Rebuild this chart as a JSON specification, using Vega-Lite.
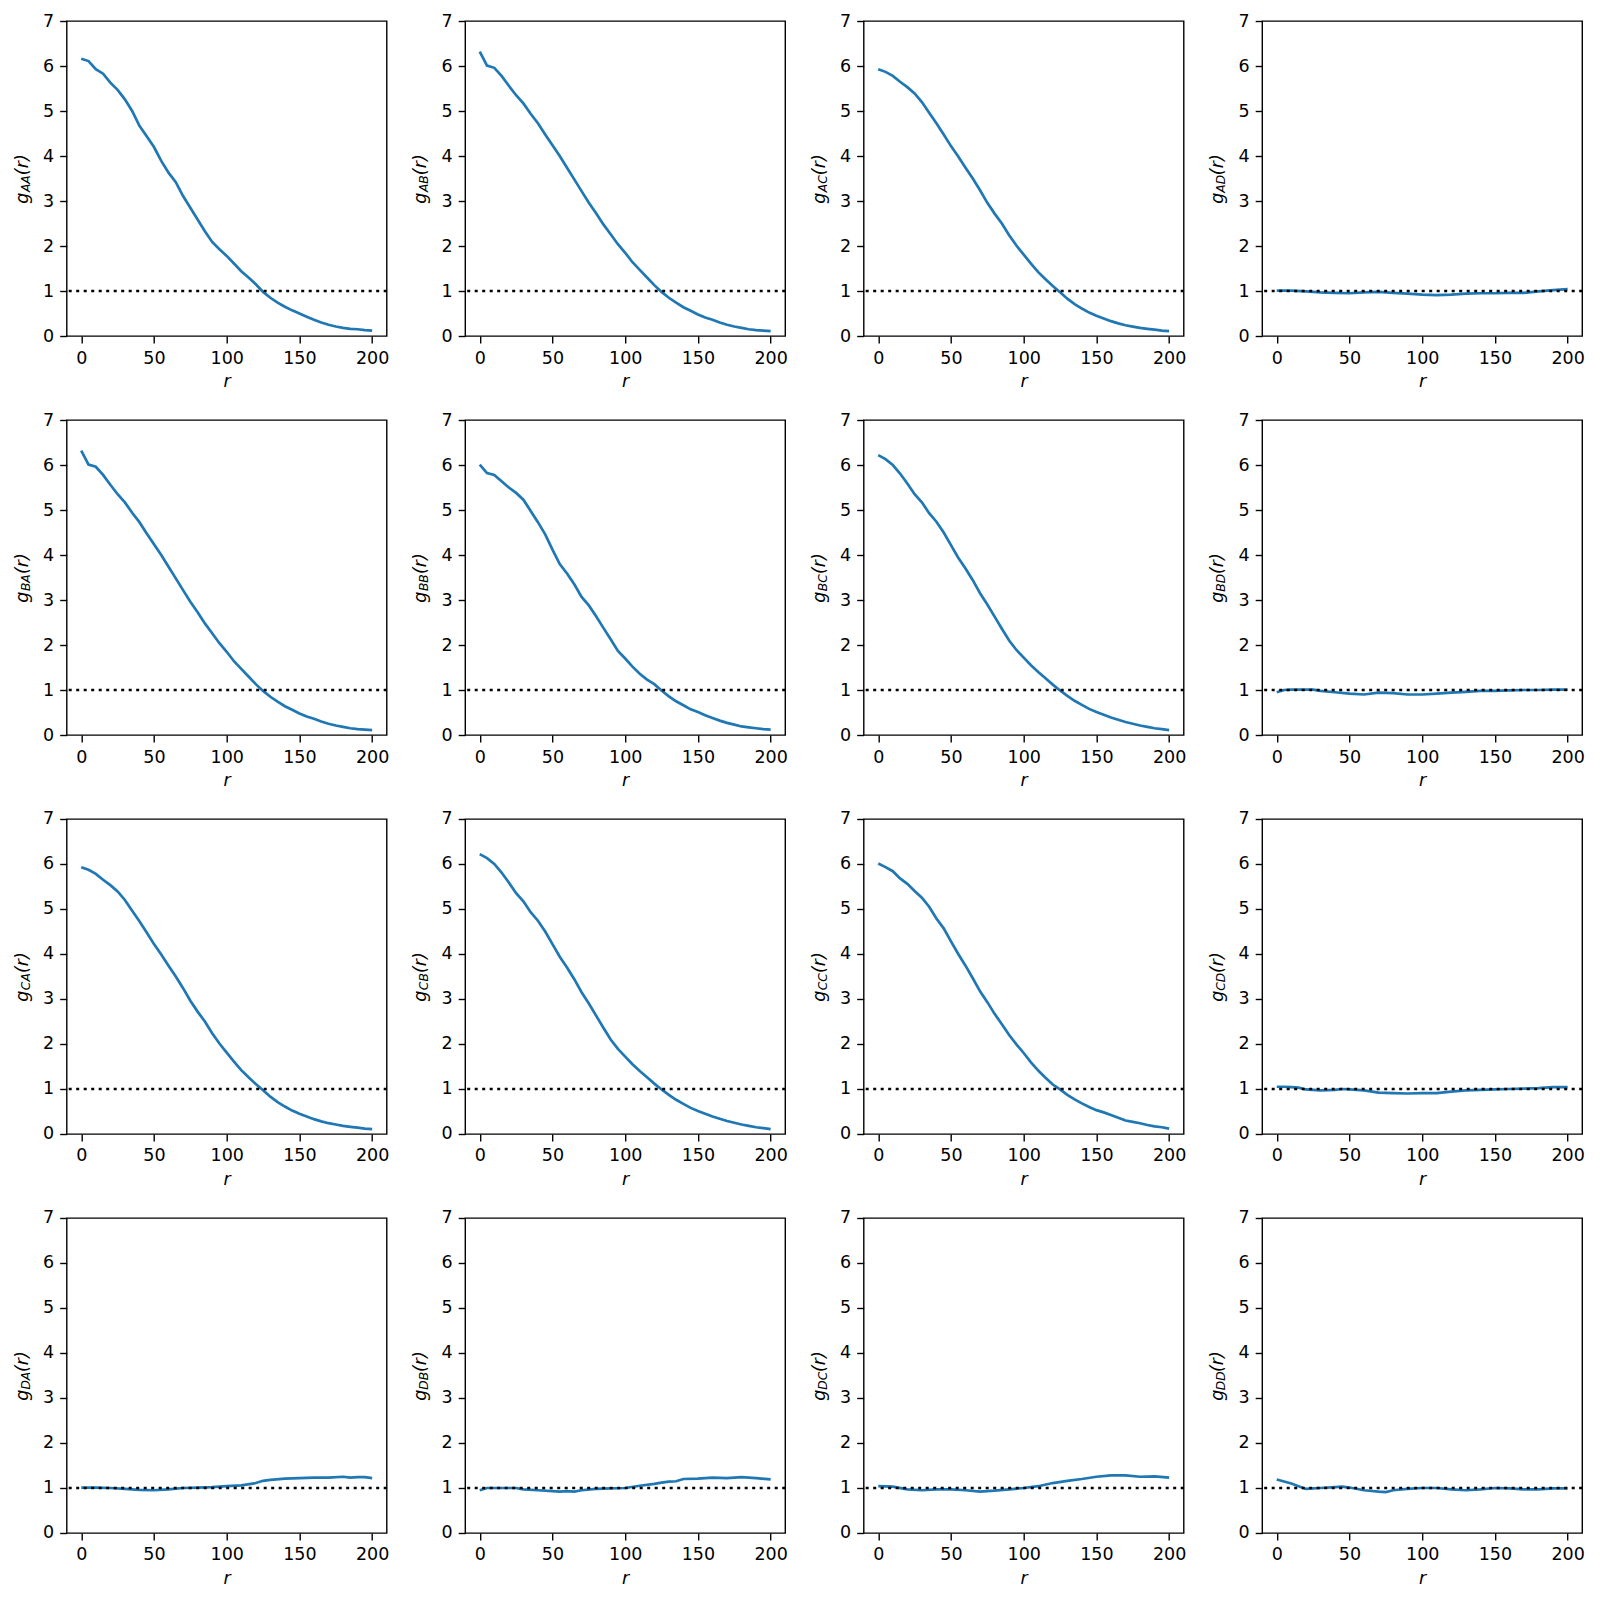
{
"$schema": "https://vega.github.io/schema/vega-lite/v6.json",
"background": "white",
"padding": {"left": 12.7, "top": 11, "right": 5, "bottom": 5},
"datasets": {"g": [
{"p":"AA","r":0,"g":6.16},{"p":"AA","r":5,"g":6.11},{"p":"AA","r":10,"g":5.93},{"p":"AA","r":15,"g":5.83},{"p":"AA","r":20,"g":5.63},{"p":"AA","r":25,"g":5.47},{"p":"AA","r":30,"g":5.26},{"p":"AA","r":35,"g":5.0},{"p":"AA","r":40,"g":4.67},{"p":"AA","r":45,"g":4.44},{"p":"AA","r":50,"g":4.2},{"p":"AA","r":55,"g":3.89},{"p":"AA","r":60,"g":3.63},{"p":"AA","r":65,"g":3.42},{"p":"AA","r":70,"g":3.11},{"p":"AA","r":75,"g":2.85},{"p":"AA","r":80,"g":2.59},{"p":"AA","r":85,"g":2.33},{"p":"AA","r":90,"g":2.09},{"p":"AA","r":95,"g":1.93},{"p":"AA","r":100,"g":1.78},{"p":"AA","r":105,"g":1.61},{"p":"AA","r":110,"g":1.44},{"p":"AA","r":115,"g":1.3},{"p":"AA","r":120,"g":1.15},{"p":"AA","r":125,"g":0.98},{"p":"AA","r":130,"g":0.85},{"p":"AA","r":135,"g":0.74},{"p":"AA","r":140,"g":0.65},{"p":"AA","r":145,"g":0.57},{"p":"AA","r":150,"g":0.5},{"p":"AA","r":155,"g":0.43},{"p":"AA","r":160,"g":0.36},{"p":"AA","r":165,"g":0.3},{"p":"AA","r":170,"g":0.25},{"p":"AA","r":175,"g":0.21},{"p":"AA","r":180,"g":0.18},{"p":"AA","r":185,"g":0.16},{"p":"AA","r":190,"g":0.15},{"p":"AA","r":195,"g":0.13},{"p":"AA","r":200,"g":0.12},
{"p":"AB","r":0,"g":6.32},{"p":"AB","r":5,"g":6.01},{"p":"AB","r":10,"g":5.96},{"p":"AB","r":15,"g":5.78},{"p":"AB","r":20,"g":5.56},{"p":"AB","r":25,"g":5.35},{"p":"AB","r":30,"g":5.17},{"p":"AB","r":35,"g":4.94},{"p":"AB","r":40,"g":4.73},{"p":"AB","r":45,"g":4.48},{"p":"AB","r":50,"g":4.24},{"p":"AB","r":55,"g":4.0},{"p":"AB","r":60,"g":3.74},{"p":"AB","r":65,"g":3.48},{"p":"AB","r":70,"g":3.22},{"p":"AB","r":75,"g":2.96},{"p":"AB","r":80,"g":2.73},{"p":"AB","r":85,"g":2.48},{"p":"AB","r":90,"g":2.26},{"p":"AB","r":95,"g":2.04},{"p":"AB","r":100,"g":1.85},{"p":"AB","r":105,"g":1.64},{"p":"AB","r":110,"g":1.47},{"p":"AB","r":115,"g":1.3},{"p":"AB","r":120,"g":1.13},{"p":"AB","r":125,"g":0.98},{"p":"AB","r":130,"g":0.85},{"p":"AB","r":135,"g":0.74},{"p":"AB","r":140,"g":0.64},{"p":"AB","r":145,"g":0.56},{"p":"AB","r":150,"g":0.48},{"p":"AB","r":155,"g":0.41},{"p":"AB","r":160,"g":0.36},{"p":"AB","r":165,"g":0.3},{"p":"AB","r":170,"g":0.25},{"p":"AB","r":175,"g":0.21},{"p":"AB","r":180,"g":0.18},{"p":"AB","r":185,"g":0.15},{"p":"AB","r":190,"g":0.13},{"p":"AB","r":195,"g":0.12},{"p":"AB","r":200,"g":0.11},
{"p":"BA","r":0,"g":6.32},{"p":"BA","r":5,"g":6.01},{"p":"BA","r":10,"g":5.96},{"p":"BA","r":15,"g":5.78},{"p":"BA","r":20,"g":5.56},{"p":"BA","r":25,"g":5.35},{"p":"BA","r":30,"g":5.17},{"p":"BA","r":35,"g":4.94},{"p":"BA","r":40,"g":4.73},{"p":"BA","r":45,"g":4.48},{"p":"BA","r":50,"g":4.24},{"p":"BA","r":55,"g":4.0},{"p":"BA","r":60,"g":3.74},{"p":"BA","r":65,"g":3.48},{"p":"BA","r":70,"g":3.22},{"p":"BA","r":75,"g":2.96},{"p":"BA","r":80,"g":2.73},{"p":"BA","r":85,"g":2.48},{"p":"BA","r":90,"g":2.26},{"p":"BA","r":95,"g":2.04},{"p":"BA","r":100,"g":1.85},{"p":"BA","r":105,"g":1.64},{"p":"BA","r":110,"g":1.47},{"p":"BA","r":115,"g":1.3},{"p":"BA","r":120,"g":1.13},{"p":"BA","r":125,"g":0.98},{"p":"BA","r":130,"g":0.85},{"p":"BA","r":135,"g":0.74},{"p":"BA","r":140,"g":0.64},{"p":"BA","r":145,"g":0.56},{"p":"BA","r":150,"g":0.48},{"p":"BA","r":155,"g":0.41},{"p":"BA","r":160,"g":0.36},{"p":"BA","r":165,"g":0.3},{"p":"BA","r":170,"g":0.25},{"p":"BA","r":175,"g":0.21},{"p":"BA","r":180,"g":0.18},{"p":"BA","r":185,"g":0.15},{"p":"BA","r":190,"g":0.13},{"p":"BA","r":195,"g":0.12},{"p":"BA","r":200,"g":0.11},
{"p":"AC","r":0,"g":5.93},{"p":"AC","r":5,"g":5.87},{"p":"AC","r":10,"g":5.78},{"p":"AC","r":15,"g":5.65},{"p":"AC","r":20,"g":5.53},{"p":"AC","r":25,"g":5.39},{"p":"AC","r":30,"g":5.2},{"p":"AC","r":35,"g":4.96},{"p":"AC","r":40,"g":4.73},{"p":"AC","r":45,"g":4.48},{"p":"AC","r":50,"g":4.22},{"p":"AC","r":55,"g":3.99},{"p":"AC","r":60,"g":3.74},{"p":"AC","r":65,"g":3.5},{"p":"AC","r":70,"g":3.24},{"p":"AC","r":75,"g":2.96},{"p":"AC","r":80,"g":2.72},{"p":"AC","r":85,"g":2.5},{"p":"AC","r":90,"g":2.24},{"p":"AC","r":95,"g":2.01},{"p":"AC","r":100,"g":1.81},{"p":"AC","r":105,"g":1.61},{"p":"AC","r":110,"g":1.42},{"p":"AC","r":115,"g":1.26},{"p":"AC","r":120,"g":1.11},{"p":"AC","r":125,"g":0.97},{"p":"AC","r":130,"g":0.83},{"p":"AC","r":135,"g":0.71},{"p":"AC","r":140,"g":0.61},{"p":"AC","r":145,"g":0.52},{"p":"AC","r":150,"g":0.45},{"p":"AC","r":155,"g":0.39},{"p":"AC","r":160,"g":0.33},{"p":"AC","r":165,"g":0.28},{"p":"AC","r":170,"g":0.24},{"p":"AC","r":175,"g":0.21},{"p":"AC","r":180,"g":0.18},{"p":"AC","r":185,"g":0.16},{"p":"AC","r":190,"g":0.14},{"p":"AC","r":195,"g":0.12},{"p":"AC","r":200,"g":0.11},
{"p":"CA","r":0,"g":5.93},{"p":"CA","r":5,"g":5.87},{"p":"CA","r":10,"g":5.78},{"p":"CA","r":15,"g":5.65},{"p":"CA","r":20,"g":5.53},{"p":"CA","r":25,"g":5.39},{"p":"CA","r":30,"g":5.2},{"p":"CA","r":35,"g":4.96},{"p":"CA","r":40,"g":4.73},{"p":"CA","r":45,"g":4.48},{"p":"CA","r":50,"g":4.22},{"p":"CA","r":55,"g":3.99},{"p":"CA","r":60,"g":3.74},{"p":"CA","r":65,"g":3.5},{"p":"CA","r":70,"g":3.24},{"p":"CA","r":75,"g":2.96},{"p":"CA","r":80,"g":2.72},{"p":"CA","r":85,"g":2.5},{"p":"CA","r":90,"g":2.24},{"p":"CA","r":95,"g":2.01},{"p":"CA","r":100,"g":1.81},{"p":"CA","r":105,"g":1.61},{"p":"CA","r":110,"g":1.42},{"p":"CA","r":115,"g":1.26},{"p":"CA","r":120,"g":1.11},{"p":"CA","r":125,"g":0.97},{"p":"CA","r":130,"g":0.83},{"p":"CA","r":135,"g":0.71},{"p":"CA","r":140,"g":0.61},{"p":"CA","r":145,"g":0.52},{"p":"CA","r":150,"g":0.45},{"p":"CA","r":155,"g":0.39},{"p":"CA","r":160,"g":0.33},{"p":"CA","r":165,"g":0.28},{"p":"CA","r":170,"g":0.24},{"p":"CA","r":175,"g":0.21},{"p":"CA","r":180,"g":0.18},{"p":"CA","r":185,"g":0.16},{"p":"CA","r":190,"g":0.14},{"p":"CA","r":195,"g":0.12},{"p":"CA","r":200,"g":0.11},
{"p":"BB","r":0,"g":6.01},{"p":"BB","r":5,"g":5.82},{"p":"BB","r":10,"g":5.78},{"p":"BB","r":15,"g":5.64},{"p":"BB","r":20,"g":5.5},{"p":"BB","r":25,"g":5.38},{"p":"BB","r":30,"g":5.23},{"p":"BB","r":35,"g":4.98},{"p":"BB","r":40,"g":4.73},{"p":"BB","r":45,"g":4.46},{"p":"BB","r":50,"g":4.12},{"p":"BB","r":55,"g":3.8},{"p":"BB","r":60,"g":3.59},{"p":"BB","r":65,"g":3.35},{"p":"BB","r":70,"g":3.07},{"p":"BB","r":75,"g":2.88},{"p":"BB","r":80,"g":2.64},{"p":"BB","r":85,"g":2.38},{"p":"BB","r":90,"g":2.13},{"p":"BB","r":95,"g":1.87},{"p":"BB","r":100,"g":1.7},{"p":"BB","r":105,"g":1.52},{"p":"BB","r":110,"g":1.36},{"p":"BB","r":115,"g":1.23},{"p":"BB","r":120,"g":1.13},{"p":"BB","r":125,"g":0.99},{"p":"BB","r":130,"g":0.86},{"p":"BB","r":135,"g":0.75},{"p":"BB","r":140,"g":0.66},{"p":"BB","r":145,"g":0.57},{"p":"BB","r":150,"g":0.51},{"p":"BB","r":155,"g":0.44},{"p":"BB","r":160,"g":0.38},{"p":"BB","r":165,"g":0.32},{"p":"BB","r":170,"g":0.27},{"p":"BB","r":175,"g":0.23},{"p":"BB","r":180,"g":0.19},{"p":"BB","r":185,"g":0.17},{"p":"BB","r":190,"g":0.15},{"p":"BB","r":195,"g":0.13},{"p":"BB","r":200,"g":0.12},
{"p":"BC","r":0,"g":6.22},{"p":"BC","r":5,"g":6.13},{"p":"BC","r":10,"g":6.0},{"p":"BC","r":15,"g":5.81},{"p":"BC","r":20,"g":5.59},{"p":"BC","r":25,"g":5.35},{"p":"BC","r":30,"g":5.17},{"p":"BC","r":35,"g":4.93},{"p":"BC","r":40,"g":4.74},{"p":"BC","r":45,"g":4.5},{"p":"BC","r":50,"g":4.22},{"p":"BC","r":55,"g":3.94},{"p":"BC","r":60,"g":3.7},{"p":"BC","r":65,"g":3.44},{"p":"BC","r":70,"g":3.15},{"p":"BC","r":75,"g":2.9},{"p":"BC","r":80,"g":2.63},{"p":"BC","r":85,"g":2.36},{"p":"BC","r":90,"g":2.1},{"p":"BC","r":95,"g":1.89},{"p":"BC","r":100,"g":1.72},{"p":"BC","r":105,"g":1.55},{"p":"BC","r":110,"g":1.4},{"p":"BC","r":115,"g":1.26},{"p":"BC","r":120,"g":1.12},{"p":"BC","r":125,"g":0.99},{"p":"BC","r":130,"g":0.87},{"p":"BC","r":135,"g":0.76},{"p":"BC","r":140,"g":0.67},{"p":"BC","r":145,"g":0.58},{"p":"BC","r":150,"g":0.51},{"p":"BC","r":155,"g":0.45},{"p":"BC","r":160,"g":0.39},{"p":"BC","r":165,"g":0.34},{"p":"BC","r":170,"g":0.29},{"p":"BC","r":175,"g":0.25},{"p":"BC","r":180,"g":0.21},{"p":"BC","r":185,"g":0.18},{"p":"BC","r":190,"g":0.15},{"p":"BC","r":195,"g":0.13},{"p":"BC","r":200,"g":0.11},
{"p":"CB","r":0,"g":6.22},{"p":"CB","r":5,"g":6.13},{"p":"CB","r":10,"g":6.0},{"p":"CB","r":15,"g":5.81},{"p":"CB","r":20,"g":5.59},{"p":"CB","r":25,"g":5.35},{"p":"CB","r":30,"g":5.17},{"p":"CB","r":35,"g":4.93},{"p":"CB","r":40,"g":4.74},{"p":"CB","r":45,"g":4.5},{"p":"CB","r":50,"g":4.22},{"p":"CB","r":55,"g":3.94},{"p":"CB","r":60,"g":3.7},{"p":"CB","r":65,"g":3.44},{"p":"CB","r":70,"g":3.15},{"p":"CB","r":75,"g":2.9},{"p":"CB","r":80,"g":2.63},{"p":"CB","r":85,"g":2.36},{"p":"CB","r":90,"g":2.1},{"p":"CB","r":95,"g":1.89},{"p":"CB","r":100,"g":1.72},{"p":"CB","r":105,"g":1.55},{"p":"CB","r":110,"g":1.4},{"p":"CB","r":115,"g":1.26},{"p":"CB","r":120,"g":1.12},{"p":"CB","r":125,"g":0.99},{"p":"CB","r":130,"g":0.87},{"p":"CB","r":135,"g":0.76},{"p":"CB","r":140,"g":0.67},{"p":"CB","r":145,"g":0.58},{"p":"CB","r":150,"g":0.51},{"p":"CB","r":155,"g":0.45},{"p":"CB","r":160,"g":0.39},{"p":"CB","r":165,"g":0.34},{"p":"CB","r":170,"g":0.29},{"p":"CB","r":175,"g":0.25},{"p":"CB","r":180,"g":0.21},{"p":"CB","r":185,"g":0.18},{"p":"CB","r":190,"g":0.15},{"p":"CB","r":195,"g":0.13},{"p":"CB","r":200,"g":0.11},
{"p":"CC","r":0,"g":6.01},{"p":"CC","r":5,"g":5.93},{"p":"CC","r":10,"g":5.84},{"p":"CC","r":15,"g":5.68},{"p":"CC","r":20,"g":5.56},{"p":"CC","r":25,"g":5.4},{"p":"CC","r":30,"g":5.25},{"p":"CC","r":35,"g":5.05},{"p":"CC","r":40,"g":4.79},{"p":"CC","r":45,"g":4.57},{"p":"CC","r":50,"g":4.28},{"p":"CC","r":55,"g":4.0},{"p":"CC","r":60,"g":3.74},{"p":"CC","r":65,"g":3.46},{"p":"CC","r":70,"g":3.17},{"p":"CC","r":75,"g":2.93},{"p":"CC","r":80,"g":2.67},{"p":"CC","r":85,"g":2.44},{"p":"CC","r":90,"g":2.2},{"p":"CC","r":95,"g":1.99},{"p":"CC","r":100,"g":1.8},{"p":"CC","r":105,"g":1.59},{"p":"CC","r":110,"g":1.41},{"p":"CC","r":115,"g":1.25},{"p":"CC","r":120,"g":1.1},{"p":"CC","r":125,"g":0.99},{"p":"CC","r":130,"g":0.87},{"p":"CC","r":135,"g":0.77},{"p":"CC","r":140,"g":0.68},{"p":"CC","r":145,"g":0.6},{"p":"CC","r":150,"g":0.53},{"p":"CC","r":155,"g":0.48},{"p":"CC","r":160,"g":0.42},{"p":"CC","r":165,"g":0.36},{"p":"CC","r":170,"g":0.3},{"p":"CC","r":175,"g":0.27},{"p":"CC","r":180,"g":0.24},{"p":"CC","r":185,"g":0.2},{"p":"CC","r":190,"g":0.17},{"p":"CC","r":195,"g":0.15},{"p":"CC","r":200,"g":0.12},
{"p":"AD","r":0,"g":1.01},{"p":"AD","r":10,"g":1.01},{"p":"AD","r":20,"g":0.99},{"p":"AD","r":30,"g":0.97},{"p":"AD","r":40,"g":0.96},{"p":"AD","r":50,"g":0.95},{"p":"AD","r":60,"g":0.97},{"p":"AD","r":70,"g":0.98},{"p":"AD","r":80,"g":0.96},{"p":"AD","r":90,"g":0.94},{"p":"AD","r":100,"g":0.92},{"p":"AD","r":110,"g":0.91},{"p":"AD","r":120,"g":0.92},{"p":"AD","r":130,"g":0.94},{"p":"AD","r":140,"g":0.95},{"p":"AD","r":150,"g":0.95},{"p":"AD","r":160,"g":0.96},{"p":"AD","r":170,"g":0.96},{"p":"AD","r":180,"g":0.99},{"p":"AD","r":190,"g":1.02},{"p":"AD","r":200,"g":1.04},
{"p":"BD","r":0,"g":0.95},{"p":"BD","r":5,"g":1.0},{"p":"BD","r":10,"g":1.01},{"p":"BD","r":20,"g":1.01},{"p":"BD","r":25,"g":1.01},{"p":"BD","r":30,"g":0.98},{"p":"BD","r":40,"g":0.95},{"p":"BD","r":50,"g":0.92},{"p":"BD","r":60,"g":0.9},{"p":"BD","r":70,"g":0.94},{"p":"BD","r":80,"g":0.93},{"p":"BD","r":90,"g":0.9},{"p":"BD","r":100,"g":0.9},{"p":"BD","r":110,"g":0.92},{"p":"BD","r":120,"g":0.94},{"p":"BD","r":130,"g":0.96},{"p":"BD","r":140,"g":0.98},{"p":"BD","r":150,"g":0.98},{"p":"BD","r":160,"g":0.99},{"p":"BD","r":170,"g":1.0},{"p":"BD","r":180,"g":1.0},{"p":"BD","r":190,"g":1.01},{"p":"BD","r":200,"g":1.01},
{"p":"CD","r":0,"g":1.05},{"p":"CD","r":5,"g":1.05},{"p":"CD","r":10,"g":1.04},{"p":"CD","r":15,"g":1.03},{"p":"CD","r":20,"g":0.99},{"p":"CD","r":30,"g":0.97},{"p":"CD","r":40,"g":0.98},{"p":"CD","r":45,"g":1.0},{"p":"CD","r":50,"g":0.99},{"p":"CD","r":60,"g":0.97},{"p":"CD","r":70,"g":0.92},{"p":"CD","r":80,"g":0.91},{"p":"CD","r":90,"g":0.9},{"p":"CD","r":100,"g":0.91},{"p":"CD","r":110,"g":0.91},{"p":"CD","r":120,"g":0.94},{"p":"CD","r":130,"g":0.97},{"p":"CD","r":140,"g":0.98},{"p":"CD","r":150,"g":0.99},{"p":"CD","r":160,"g":1.0},{"p":"CD","r":170,"g":1.01},{"p":"CD","r":180,"g":1.02},{"p":"CD","r":190,"g":1.04},{"p":"CD","r":200,"g":1.04},
{"p":"DA","r":0,"g":1.01},{"p":"DA","r":10,"g":1.01},{"p":"DA","r":20,"g":1.0},{"p":"DA","r":30,"g":0.98},{"p":"DA","r":40,"g":0.96},{"p":"DA","r":50,"g":0.95},{"p":"DA","r":60,"g":0.97},{"p":"DA","r":70,"g":1.0},{"p":"DA","r":80,"g":1.01},{"p":"DA","r":90,"g":1.02},{"p":"DA","r":100,"g":1.04},{"p":"DA","r":110,"g":1.06},{"p":"DA","r":120,"g":1.11},{"p":"DA","r":125,"g":1.16},{"p":"DA","r":130,"g":1.18},{"p":"DA","r":140,"g":1.21},{"p":"DA","r":150,"g":1.22},{"p":"DA","r":160,"g":1.23},{"p":"DA","r":170,"g":1.23},{"p":"DA","r":180,"g":1.25},{"p":"DA","r":185,"g":1.23},{"p":"DA","r":190,"g":1.24},{"p":"DA","r":195,"g":1.24},{"p":"DA","r":200,"g":1.22},
{"p":"DB","r":0,"g":0.95},{"p":"DB","r":5,"g":1.0},{"p":"DB","r":10,"g":1.0},{"p":"DB","r":20,"g":1.0},{"p":"DB","r":25,"g":1.0},{"p":"DB","r":30,"g":0.97},{"p":"DB","r":40,"g":0.95},{"p":"DB","r":50,"g":0.93},{"p":"DB","r":55,"g":0.92},{"p":"DB","r":60,"g":0.93},{"p":"DB","r":65,"g":0.92},{"p":"DB","r":70,"g":0.95},{"p":"DB","r":80,"g":0.98},{"p":"DB","r":90,"g":0.99},{"p":"DB","r":100,"g":1.0},{"p":"DB","r":110,"g":1.05},{"p":"DB","r":120,"g":1.09},{"p":"DB","r":125,"g":1.12},{"p":"DB","r":130,"g":1.14},{"p":"DB","r":135,"g":1.15},{"p":"DB","r":140,"g":1.2},{"p":"DB","r":150,"g":1.21},{"p":"DB","r":160,"g":1.23},{"p":"DB","r":170,"g":1.22},{"p":"DB","r":180,"g":1.24},{"p":"DB","r":190,"g":1.22},{"p":"DB","r":200,"g":1.19},
{"p":"DC","r":0,"g":1.04},{"p":"DC","r":10,"g":1.03},{"p":"DC","r":20,"g":0.97},{"p":"DC","r":30,"g":0.95},{"p":"DC","r":40,"g":0.97},{"p":"DC","r":50,"g":0.97},{"p":"DC","r":60,"g":0.95},{"p":"DC","r":70,"g":0.92},{"p":"DC","r":80,"g":0.94},{"p":"DC","r":90,"g":0.97},{"p":"DC","r":100,"g":1.0},{"p":"DC","r":110,"g":1.04},{"p":"DC","r":120,"g":1.11},{"p":"DC","r":130,"g":1.16},{"p":"DC","r":140,"g":1.2},{"p":"DC","r":150,"g":1.25},{"p":"DC","r":160,"g":1.28},{"p":"DC","r":170,"g":1.28},{"p":"DC","r":180,"g":1.25},{"p":"DC","r":190,"g":1.26},{"p":"DC","r":200,"g":1.23},
{"p":"DD","r":0,"g":1.19},{"p":"DD","r":10,"g":1.1},{"p":"DD","r":20,"g":0.98},{"p":"DD","r":30,"g":1.0},{"p":"DD","r":40,"g":1.02},{"p":"DD","r":45,"g":1.03},{"p":"DD","r":50,"g":1.01},{"p":"DD","r":60,"g":0.95},{"p":"DD","r":70,"g":0.92},{"p":"DD","r":75,"g":0.91},{"p":"DD","r":80,"g":0.95},{"p":"DD","r":90,"g":0.98},{"p":"DD","r":100,"g":1.0},{"p":"DD","r":110,"g":1.0},{"p":"DD","r":120,"g":0.97},{"p":"DD","r":130,"g":0.95},{"p":"DD","r":140,"g":0.97},{"p":"DD","r":150,"g":1.0},{"p":"DD","r":160,"g":0.99},{"p":"DD","r":170,"g":0.97},{"p":"DD","r":180,"g":0.97},{"p":"DD","r":190,"g":0.99},{"p":"DD","r":200,"g":0.99}
]},
"data": {"name": "g"},
"columns": 4,
"spacing": {"row": 84, "column": 78.5},
"bounds": "flush",
"concat": [
{"width":320,"height":315,"layer":[{"transform":[{"filter":"datum.p==='AA'"}],"mark":{"type":"line","color":"#1f77b4","strokeWidth":2.7},"encoding":{"x":{"field":"r","type":"quantitative","scale":{"domain":[-10,210],"nice":false,"zero":false},"axis":{"values":[0,50,100,150,200],"title":"r"}},"y":{"field":"g","type":"quantitative","scale":{"domain":[0,7],"nice":false},"axis":{"orient":"left","values":[0,1,2,3,4,5,6,7],"title":"g\u2002\u2002(r)"}}}},{"data":{"values":[{"ref":1}]},"mark":{"type":"rule","color":"black","strokeWidth":2.7,"strokeDash":[3,4.5]},"encoding":{"y":{"field":"ref","type":"quantitative","scale":{"domain":[0,7],"nice":false},"axis":{"orient":"right","title":"AA"}}}}],"resolve":{"scale":{"y":"independent"}}},
{"width":320,"height":315,"layer":[{"transform":[{"filter":"datum.p==='AB'"}],"mark":{"type":"line","color":"#1f77b4","strokeWidth":2.7},"encoding":{"x":{"field":"r","type":"quantitative","scale":{"domain":[-10,210],"nice":false,"zero":false},"axis":{"values":[0,50,100,150,200],"title":"r"}},"y":{"field":"g","type":"quantitative","scale":{"domain":[0,7],"nice":false},"axis":{"orient":"left","values":[0,1,2,3,4,5,6,7],"title":"g\u2002\u2002(r)"}}}},{"data":{"values":[{"ref":1}]},"mark":{"type":"rule","color":"black","strokeWidth":2.7,"strokeDash":[3,4.5]},"encoding":{"y":{"field":"ref","type":"quantitative","scale":{"domain":[0,7],"nice":false},"axis":{"orient":"right","title":"AB"}}}}],"resolve":{"scale":{"y":"independent"}}},
{"width":320,"height":315,"layer":[{"transform":[{"filter":"datum.p==='AC'"}],"mark":{"type":"line","color":"#1f77b4","strokeWidth":2.7},"encoding":{"x":{"field":"r","type":"quantitative","scale":{"domain":[-10,210],"nice":false,"zero":false},"axis":{"values":[0,50,100,150,200],"title":"r"}},"y":{"field":"g","type":"quantitative","scale":{"domain":[0,7],"nice":false},"axis":{"orient":"left","values":[0,1,2,3,4,5,6,7],"title":"g\u2002\u2002(r)"}}}},{"data":{"values":[{"ref":1}]},"mark":{"type":"rule","color":"black","strokeWidth":2.7,"strokeDash":[3,4.5]},"encoding":{"y":{"field":"ref","type":"quantitative","scale":{"domain":[0,7],"nice":false},"axis":{"orient":"right","title":"AC"}}}}],"resolve":{"scale":{"y":"independent"}}},
{"width":320,"height":315,"layer":[{"transform":[{"filter":"datum.p==='AD'"}],"mark":{"type":"line","color":"#1f77b4","strokeWidth":2.7},"encoding":{"x":{"field":"r","type":"quantitative","scale":{"domain":[-10,210],"nice":false,"zero":false},"axis":{"values":[0,50,100,150,200],"title":"r"}},"y":{"field":"g","type":"quantitative","scale":{"domain":[0,7],"nice":false},"axis":{"orient":"left","values":[0,1,2,3,4,5,6,7],"title":"g\u2002\u2002(r)"}}}},{"data":{"values":[{"ref":1}]},"mark":{"type":"rule","color":"black","strokeWidth":2.7,"strokeDash":[3,4.5]},"encoding":{"y":{"field":"ref","type":"quantitative","scale":{"domain":[0,7],"nice":false},"axis":{"orient":"right","title":"AD"}}}}],"resolve":{"scale":{"y":"independent"}}},
{"width":320,"height":315,"layer":[{"transform":[{"filter":"datum.p==='BA'"}],"mark":{"type":"line","color":"#1f77b4","strokeWidth":2.7},"encoding":{"x":{"field":"r","type":"quantitative","scale":{"domain":[-10,210],"nice":false,"zero":false},"axis":{"values":[0,50,100,150,200],"title":"r"}},"y":{"field":"g","type":"quantitative","scale":{"domain":[0,7],"nice":false},"axis":{"orient":"left","values":[0,1,2,3,4,5,6,7],"title":"g\u2002\u2002(r)"}}}},{"data":{"values":[{"ref":1}]},"mark":{"type":"rule","color":"black","strokeWidth":2.7,"strokeDash":[3,4.5]},"encoding":{"y":{"field":"ref","type":"quantitative","scale":{"domain":[0,7],"nice":false},"axis":{"orient":"right","title":"BA"}}}}],"resolve":{"scale":{"y":"independent"}}},
{"width":320,"height":315,"layer":[{"transform":[{"filter":"datum.p==='BB'"}],"mark":{"type":"line","color":"#1f77b4","strokeWidth":2.7},"encoding":{"x":{"field":"r","type":"quantitative","scale":{"domain":[-10,210],"nice":false,"zero":false},"axis":{"values":[0,50,100,150,200],"title":"r"}},"y":{"field":"g","type":"quantitative","scale":{"domain":[0,7],"nice":false},"axis":{"orient":"left","values":[0,1,2,3,4,5,6,7],"title":"g\u2002\u2002(r)"}}}},{"data":{"values":[{"ref":1}]},"mark":{"type":"rule","color":"black","strokeWidth":2.7,"strokeDash":[3,4.5]},"encoding":{"y":{"field":"ref","type":"quantitative","scale":{"domain":[0,7],"nice":false},"axis":{"orient":"right","title":"BB"}}}}],"resolve":{"scale":{"y":"independent"}}},
{"width":320,"height":315,"layer":[{"transform":[{"filter":"datum.p==='BC'"}],"mark":{"type":"line","color":"#1f77b4","strokeWidth":2.7},"encoding":{"x":{"field":"r","type":"quantitative","scale":{"domain":[-10,210],"nice":false,"zero":false},"axis":{"values":[0,50,100,150,200],"title":"r"}},"y":{"field":"g","type":"quantitative","scale":{"domain":[0,7],"nice":false},"axis":{"orient":"left","values":[0,1,2,3,4,5,6,7],"title":"g\u2002\u2002(r)"}}}},{"data":{"values":[{"ref":1}]},"mark":{"type":"rule","color":"black","strokeWidth":2.7,"strokeDash":[3,4.5]},"encoding":{"y":{"field":"ref","type":"quantitative","scale":{"domain":[0,7],"nice":false},"axis":{"orient":"right","title":"BC"}}}}],"resolve":{"scale":{"y":"independent"}}},
{"width":320,"height":315,"layer":[{"transform":[{"filter":"datum.p==='BD'"}],"mark":{"type":"line","color":"#1f77b4","strokeWidth":2.7},"encoding":{"x":{"field":"r","type":"quantitative","scale":{"domain":[-10,210],"nice":false,"zero":false},"axis":{"values":[0,50,100,150,200],"title":"r"}},"y":{"field":"g","type":"quantitative","scale":{"domain":[0,7],"nice":false},"axis":{"orient":"left","values":[0,1,2,3,4,5,6,7],"title":"g\u2002\u2002(r)"}}}},{"data":{"values":[{"ref":1}]},"mark":{"type":"rule","color":"black","strokeWidth":2.7,"strokeDash":[3,4.5]},"encoding":{"y":{"field":"ref","type":"quantitative","scale":{"domain":[0,7],"nice":false},"axis":{"orient":"right","title":"BD"}}}}],"resolve":{"scale":{"y":"independent"}}},
{"width":320,"height":315,"layer":[{"transform":[{"filter":"datum.p==='CA'"}],"mark":{"type":"line","color":"#1f77b4","strokeWidth":2.7},"encoding":{"x":{"field":"r","type":"quantitative","scale":{"domain":[-10,210],"nice":false,"zero":false},"axis":{"values":[0,50,100,150,200],"title":"r"}},"y":{"field":"g","type":"quantitative","scale":{"domain":[0,7],"nice":false},"axis":{"orient":"left","values":[0,1,2,3,4,5,6,7],"title":"g\u2002\u2002(r)"}}}},{"data":{"values":[{"ref":1}]},"mark":{"type":"rule","color":"black","strokeWidth":2.7,"strokeDash":[3,4.5]},"encoding":{"y":{"field":"ref","type":"quantitative","scale":{"domain":[0,7],"nice":false},"axis":{"orient":"right","title":"CA"}}}}],"resolve":{"scale":{"y":"independent"}}},
{"width":320,"height":315,"layer":[{"transform":[{"filter":"datum.p==='CB'"}],"mark":{"type":"line","color":"#1f77b4","strokeWidth":2.7},"encoding":{"x":{"field":"r","type":"quantitative","scale":{"domain":[-10,210],"nice":false,"zero":false},"axis":{"values":[0,50,100,150,200],"title":"r"}},"y":{"field":"g","type":"quantitative","scale":{"domain":[0,7],"nice":false},"axis":{"orient":"left","values":[0,1,2,3,4,5,6,7],"title":"g\u2002\u2002(r)"}}}},{"data":{"values":[{"ref":1}]},"mark":{"type":"rule","color":"black","strokeWidth":2.7,"strokeDash":[3,4.5]},"encoding":{"y":{"field":"ref","type":"quantitative","scale":{"domain":[0,7],"nice":false},"axis":{"orient":"right","title":"CB"}}}}],"resolve":{"scale":{"y":"independent"}}},
{"width":320,"height":315,"layer":[{"transform":[{"filter":"datum.p==='CC'"}],"mark":{"type":"line","color":"#1f77b4","strokeWidth":2.7},"encoding":{"x":{"field":"r","type":"quantitative","scale":{"domain":[-10,210],"nice":false,"zero":false},"axis":{"values":[0,50,100,150,200],"title":"r"}},"y":{"field":"g","type":"quantitative","scale":{"domain":[0,7],"nice":false},"axis":{"orient":"left","values":[0,1,2,3,4,5,6,7],"title":"g\u2002\u2002(r)"}}}},{"data":{"values":[{"ref":1}]},"mark":{"type":"rule","color":"black","strokeWidth":2.7,"strokeDash":[3,4.5]},"encoding":{"y":{"field":"ref","type":"quantitative","scale":{"domain":[0,7],"nice":false},"axis":{"orient":"right","title":"CC"}}}}],"resolve":{"scale":{"y":"independent"}}},
{"width":320,"height":315,"layer":[{"transform":[{"filter":"datum.p==='CD'"}],"mark":{"type":"line","color":"#1f77b4","strokeWidth":2.7},"encoding":{"x":{"field":"r","type":"quantitative","scale":{"domain":[-10,210],"nice":false,"zero":false},"axis":{"values":[0,50,100,150,200],"title":"r"}},"y":{"field":"g","type":"quantitative","scale":{"domain":[0,7],"nice":false},"axis":{"orient":"left","values":[0,1,2,3,4,5,6,7],"title":"g\u2002\u2002(r)"}}}},{"data":{"values":[{"ref":1}]},"mark":{"type":"rule","color":"black","strokeWidth":2.7,"strokeDash":[3,4.5]},"encoding":{"y":{"field":"ref","type":"quantitative","scale":{"domain":[0,7],"nice":false},"axis":{"orient":"right","title":"CD"}}}}],"resolve":{"scale":{"y":"independent"}}},
{"width":320,"height":315,"layer":[{"transform":[{"filter":"datum.p==='DA'"}],"mark":{"type":"line","color":"#1f77b4","strokeWidth":2.7},"encoding":{"x":{"field":"r","type":"quantitative","scale":{"domain":[-10,210],"nice":false,"zero":false},"axis":{"values":[0,50,100,150,200],"title":"r"}},"y":{"field":"g","type":"quantitative","scale":{"domain":[0,7],"nice":false},"axis":{"orient":"left","values":[0,1,2,3,4,5,6,7],"title":"g\u2002\u2002(r)"}}}},{"data":{"values":[{"ref":1}]},"mark":{"type":"rule","color":"black","strokeWidth":2.7,"strokeDash":[3,4.5]},"encoding":{"y":{"field":"ref","type":"quantitative","scale":{"domain":[0,7],"nice":false},"axis":{"orient":"right","title":"DA"}}}}],"resolve":{"scale":{"y":"independent"}}},
{"width":320,"height":315,"layer":[{"transform":[{"filter":"datum.p==='DB'"}],"mark":{"type":"line","color":"#1f77b4","strokeWidth":2.7},"encoding":{"x":{"field":"r","type":"quantitative","scale":{"domain":[-10,210],"nice":false,"zero":false},"axis":{"values":[0,50,100,150,200],"title":"r"}},"y":{"field":"g","type":"quantitative","scale":{"domain":[0,7],"nice":false},"axis":{"orient":"left","values":[0,1,2,3,4,5,6,7],"title":"g\u2002\u2002(r)"}}}},{"data":{"values":[{"ref":1}]},"mark":{"type":"rule","color":"black","strokeWidth":2.7,"strokeDash":[3,4.5]},"encoding":{"y":{"field":"ref","type":"quantitative","scale":{"domain":[0,7],"nice":false},"axis":{"orient":"right","title":"DB"}}}}],"resolve":{"scale":{"y":"independent"}}},
{"width":320,"height":315,"layer":[{"transform":[{"filter":"datum.p==='DC'"}],"mark":{"type":"line","color":"#1f77b4","strokeWidth":2.7},"encoding":{"x":{"field":"r","type":"quantitative","scale":{"domain":[-10,210],"nice":false,"zero":false},"axis":{"values":[0,50,100,150,200],"title":"r"}},"y":{"field":"g","type":"quantitative","scale":{"domain":[0,7],"nice":false},"axis":{"orient":"left","values":[0,1,2,3,4,5,6,7],"title":"g\u2002\u2002(r)"}}}},{"data":{"values":[{"ref":1}]},"mark":{"type":"rule","color":"black","strokeWidth":2.7,"strokeDash":[3,4.5]},"encoding":{"y":{"field":"ref","type":"quantitative","scale":{"domain":[0,7],"nice":false},"axis":{"orient":"right","title":"DC"}}}}],"resolve":{"scale":{"y":"independent"}}},
{"width":320,"height":315,"layer":[{"transform":[{"filter":"datum.p==='DD'"}],"mark":{"type":"line","color":"#1f77b4","strokeWidth":2.7},"encoding":{"x":{"field":"r","type":"quantitative","scale":{"domain":[-10,210],"nice":false,"zero":false},"axis":{"values":[0,50,100,150,200],"title":"r"}},"y":{"field":"g","type":"quantitative","scale":{"domain":[0,7],"nice":false},"axis":{"orient":"left","values":[0,1,2,3,4,5,6,7],"title":"g\u2002\u2002(r)"}}}},{"data":{"values":[{"ref":1}]},"mark":{"type":"rule","color":"black","strokeWidth":2.7,"strokeDash":[3,4.5]},"encoding":{"y":{"field":"ref","type":"quantitative","scale":{"domain":[0,7],"nice":false},"axis":{"orient":"right","title":"DD"}}}}],"resolve":{"scale":{"y":"independent"}}}
],
"config": {
 "view": {"stroke": "black", "strokeWidth": 1.4},
 "font": "DejaVu Sans",
 "axis": {"grid": false, "domain": false, "tickColor": "black", "tickWidth": 1.4, "tickSize": 7, "labelColor": "black", "labelFont": "DejaVu Sans", "labelFontSize": 17.5, "labelPadding": 6, "labelFlush": false, "labelOverlap": false, "titleFont": "DejaVu Sans", "titleFontSize": 17.5, "titleFontStyle": "italic", "titleFontWeight": "normal", "titleColor": "black"},
 "axisBottom": {"titleY": 50.5, "titleBaseline": "alphabetic"},
 "axisLeft": {"titleX": -39.2, "titleY": 157.5, "titleAngle": -90, "titleBaseline": "alphabetic", "titleAlign": "center"},
 "axisRight": {"labels": false, "ticks": false, "titleFontSize": 12.3, "titleX": -357.2, "titleY": 162.2, "titleAngle": -90, "titleBaseline": "alphabetic", "titleAlign": "center"}
}
}
